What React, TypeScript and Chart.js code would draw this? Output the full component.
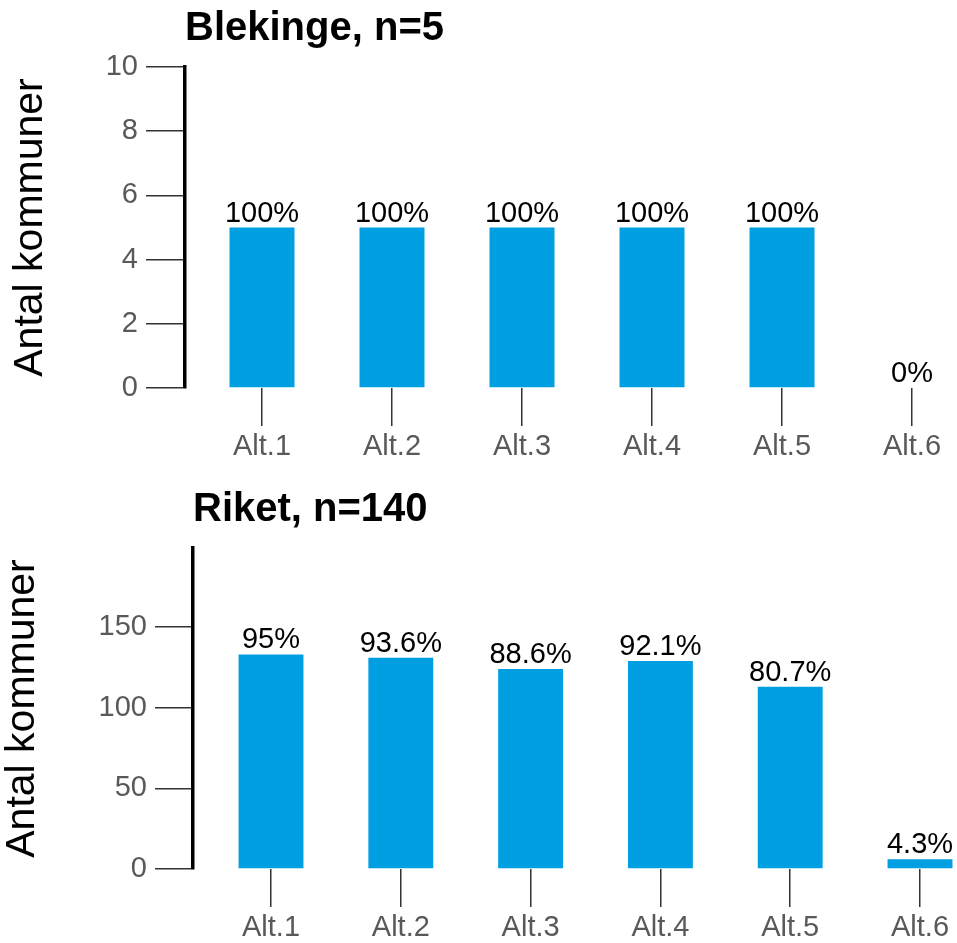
import React, { useEffect, useRef } from "react";
import { Chart, registerables } from "chart.js";

Chart.register(...registerables);

const FONT = "'Liberation Sans', Arial, Helvetica, sans-serif";

const categories = ["Alt.1", "Alt.2", "Alt.3", "Alt.4", "Alt.5", "Alt.6"];
const yAxisTitle = "Antal kommuner";

const blekingeTitle = "Blekinge, n=5";
const blekingeCounts = [5, 5, 5, 5, 5, 0];
const blekingePct = [100, 100, 100, 100, 100, 0];
const blekingeTicks = [0, 2, 4, 6, 8, 10];

const riketTitle = "Riket, n=140";
const riketCounts = [133, 131, 124, 129, 113, 6];
const riketPct = [95, 93.6, 88.6, 92.1, 80.7, 4.3];
const riketTicks = [0, 50, 100, 150];

const BAR_COLOR = "#009FE1";

type PanelProps = {
  title: string;
  counts: number[];
  pct: number[];
  yTicks: number[];
  yMax: number;
  xMin: number;
  xMax: number;
  yWidth: number;
  xHeight: number;
  titlePadTop: number;
  titlePadBottom: number;
  yTitlePad: number;
  yTickLen: number;
  height: number;
  top: number;
};

function Panel(p: PanelProps) {
  const ref = useRef<HTMLCanvasElement | null>(null);
  useEffect(() => {
    if (!ref.current) return;
    const valueLabels = {
      id: "valueLabels",
      afterDatasetsDraw(chart: any) {
        const ctx = chart.ctx;
        const meta = chart.getDatasetMeta(0);
        ctx.save();
        ctx.font = `29px ${FONT}`;
        ctx.fillStyle = "#000";
        ctx.textAlign = "center";
        ctx.textBaseline = "alphabetic";
        meta.data.forEach((bar: any, i: number) => {
          ctx.fillText(`${p.pct[i]}%`, bar.x, bar.y - 6);
        });
        ctx.restore();
      },
    };
    const chart = new Chart(ref.current, {
      type: "bar",
      data: {
        datasets: [
          {
            data: p.counts.map((v, i) => ({ x: i, y: v })),
            backgroundColor: BAR_COLOR,
            borderWidth: 0,
            barPercentage: 0.5,
            categoryPercentage: 1,
          },
        ],
      },
      options: {
        responsive: false,
        animation: false,
        layout: { padding: 0 },
        plugins: {
          legend: { display: false },
          tooltip: { enabled: false },
          title: {
            display: true,
            text: p.title,
            align: "start",
            fullSize: false,
            color: "#000",
            font: { size: 40, weight: "bold", family: FONT, lineHeight: 1.2 },
            padding: { top: p.titlePadTop, bottom: p.titlePadBottom },
          },
        },
        scales: {
          x: {
            type: "linear",
            offset: false,
            min: p.xMin,
            max: p.xMax,
            afterBuildTicks: (scale: any) => {
              scale.ticks = categories.map((_, i) => ({ value: i }));
            },
            afterFit: (scale: any) => {
              scale.height = p.xHeight;
            },
            ticks: {
              callback: (v: any) => categories[Math.round(Number(v))] ?? "",
              font: { size: 29, family: FONT },
              color: "#595959",
              padding: 4,
              maxRotation: 0,
              minRotation: 0,
              autoSkip: false,
              includeBounds: false,
            },
            grid: {
              offset: false,
              drawOnChartArea: false,
              drawTicks: true,
              tickLength: 38,
              color: "#333",
              lineWidth: 1.5,
            },
            border: { display: false },
          },
          y: {
            min: 0,
            max: p.yMax,
            afterBuildTicks: (scale: any) => {
              scale.ticks = p.yTicks.map((v) => ({ value: v }));
            },
            afterFit: (scale: any) => {
              scale.width = p.yWidth;
            },
            ticks: {
              font: { size: 29, family: FONT },
              color: "#595959",
              padding: 8,
            },
            grid: {
              drawOnChartArea: false,
              drawTicks: true,
              tickLength: p.yTickLen,
              color: "#333",
              lineWidth: 1.5,
            },
            border: { display: true, color: "#000", width: 3.5 },
            title: {
              display: true,
              text: yAxisTitle,
              color: "#000",
              font: { size: 41, family: FONT, lineHeight: 1 },
              padding: { top: p.yTitlePad, bottom: 0 },
            },
          },
        },
      },
      plugins: [valueLabels],
    } as any);
    return () => chart.destroy();
  }, []);
  return (
    <canvas
      ref={ref}
      width={957}
      height={p.height}
      style={{ position: "absolute", left: 0, top: p.top, display: "block" }}
    />
  );
}

export default function App() {
  return (
    <div style={{ position: "absolute", left: 0, top: 0, width: 957, height: 943, background: "#fff", overflow: "hidden" }}>
      <Panel
        title={blekingeTitle}
        counts={blekingeCounts}
        pct={blekingePct}
        yTicks={blekingeTicks}
        yMax={10}
        xMin={-0.5923}
        xMax={5.346}
        yWidth={185}
        xHeight={82}
        titlePadTop={5.4}
        titlePadBottom={13.6}
        yTitlePad={10.5}
        yTickLen={39}
        height={470}
        top={0}
      />
      <Panel
        title={riketTitle}
        counts={riketCounts}
        pct={riketPct}
        yTicks={riketTicks}
        yMax={199}
        xMin={-0.601}
        xMax={5.285}
        yWidth={193}
        xHeight={74}
        titlePadTop={16.1}
        titlePadBottom={13.9}
        yTitlePad={2}
        yTickLen={38}
        height={473}
        top={470}
      />
    </div>
  );
}
